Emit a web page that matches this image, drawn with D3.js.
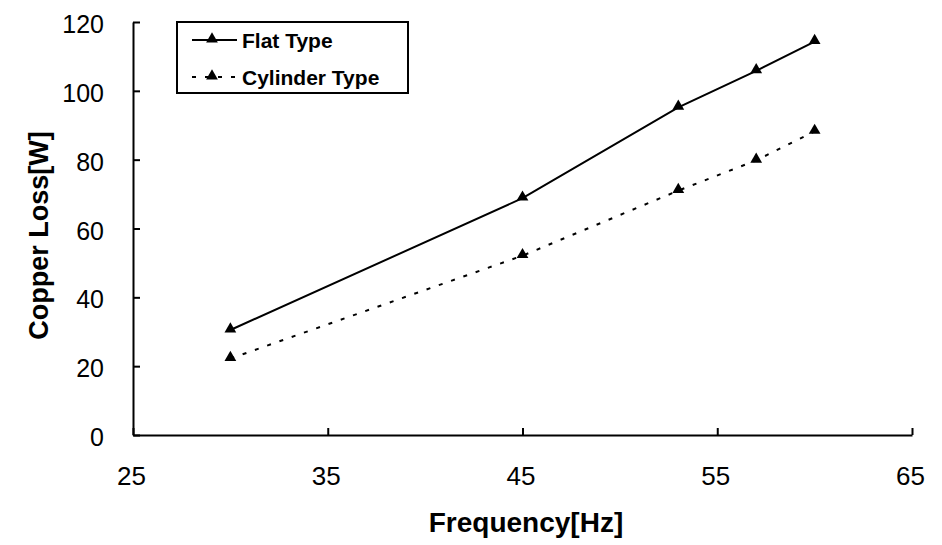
<!DOCTYPE html>
<meta charset="utf-8">
<head>
<style>
  body { margin: 0; background: #fff; }
  text { font-family: "Liberation Sans", Arial, sans-serif; fill: #000; }
  .axis path, .axis line { stroke: #000; stroke-width: 2; }
  .axis text { font-size: 25px; }
</style>
</head>
<body>
<svg id="chart"></svg>
<script src="https://d3js.org/d3.v7.min.js"></script>
<script>

var freq = [30, 45, 53, 57, 60];
var flatLoss = [30.5, 68.8, 95.2, 105.8, 114.3];
var cylLoss = [22.2, 52.1, 71.0, 79.8, 88.2];
var xTicks = [25, 35, 45, 55, 65];
var yTicks = [0, 20, 40, 60, 80, 100, 120];

var W = 942, H = 545;
var margin = {top: 22, right: 30, bottom: 110, left: 133},
    width = 912 - margin.left,
    height = 435 - margin.top;

var svg = d3.select("#chart")
    .attr("width", W)
    .attr("height", H)
  .append("g")
    .attr("transform", "translate(" + margin.left + "," + margin.top + ")");

var x = d3.scaleLinear().domain([25, 65]).range([0, width]);
var y = d3.scaleLinear().domain([0, 120]).range([height, 0]);

var xAxis = d3.axisBottom(x).tickValues(xTicks).tickSizeInner(-7).tickSizeOuter(0);
var yAxis = d3.axisLeft(y).tickValues(yTicks).tickSizeInner(-7).tickSizeOuter(0).tickPadding(29);

svg.append("g")
    .attr("class", "x axis")
    .attr("transform", "translate(0," + height + ")")
    .call(xAxis);

svg.append("g")
    .attr("class", "y axis")
    .call(yAxis);

svg.select(".y.axis").selectAll(".tick text").attr("dy", "0.42em");
svg.select(".x.axis").selectAll(".tick text")
    .style("font-size", "26px")
    .attr("x", -2).attr("y", 41).attr("dy", "0.35em");

// axis titles
svg.append("text")
    .attr("x", 393)
    .attr("y", height + 97)
    .style("text-anchor", "middle")
    .style("font-size", "28px")
    .style("font-weight", "bold")
    .text("Frequency[Hz]");

svg.append("text")
    .attr("transform", "translate(" + (-85) + "," + (y(60) + 7) + ") rotate(-90)")
    .style("text-anchor", "middle")
    .style("font-size", "27px")
    .style("font-weight", "bold")
    .text("Copper Loss[W]");

var tri = d3.symbol().type(d3.symbolTriangle).size(60);

var series = [
  {name: "Flat Type", values: flatLoss, dash: null},
  {name: "Cylinder Type", values: cylLoss, dash: "4,9"}
];

var line = d3.line()
    .x(function(d) { return x(d[0]); })
    .y(function(d) { return y(d[1]); });

series.forEach(function(s) {
  var pts = freq.map(function(f, i) { return [f, s.values[i]]; });
  svg.append("path")
      .datum(pts)
      .attr("d", line)
      .attr("fill", "none")
      .attr("stroke", "#000")
      .attr("stroke-width", 2)
      .attr("stroke-dasharray", s.dash);
  svg.selectAll(null)
      .data(pts)
    .enter().append("path")
      .attr("d", tri)
      .attr("transform", function(d) { return "translate(" + x(d[0]) + "," + (y(d[1]) - 1) + ")"; })
      .attr("fill", "#000");
});

// legend
var lg = svg.append("g").attr("transform", "translate(" + (177 - margin.left) + "," + (22 - margin.top) + ")");
lg.append("rect")
    .attr("width", 231).attr("height", 71)
    .attr("fill", "#fff").attr("stroke", "#000").attr("stroke-width", 2);

series.forEach(function(s, i) {
  var cy = 18 + i * 37;
  lg.append("line")
      .attr("x1", 15).attr("x2", 60).attr("y1", cy).attr("y2", cy)
      .attr("stroke", "#000").attr("stroke-width", 2)
      .attr("stroke-dasharray", s.dash);
  lg.append("path")
      .attr("d", tri)
      .attr("transform", "translate(35," + (cy - 1) + ")");
  lg.append("text")
      .attr("x", 65).attr("y", cy).attr("dy", "0.36em")
      .style("font-size", "21px").style("font-weight", "bold")
      .text(s.name);
});

</script>
</body>
